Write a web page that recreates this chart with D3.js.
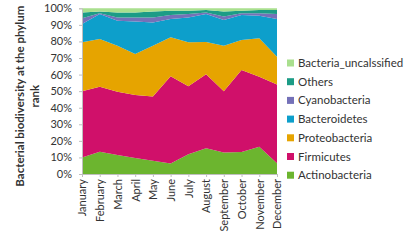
<!DOCTYPE html>
<html lang="en">
<head>
  <meta charset="UTF-8">
  <title>Bacterial biodiversity</title>
  <script src="https://d3js.org/d3.v7.min.js"></script>
  <style>
    body { margin: 0; background: #fff; }
    text { font-family: Lato, "Open Sans", sans-serif; fill: #333; }
    .axis path, .axis line { stroke: #bfbfbf; }
  </style>
</head>
<body>
<div id="chart"></div>
<script>
  // months along the x axis
  const months = ["January", "February", "March", "April", "May", "June",
    "July", "August", "September", "October", "November", "December"];

  // percentage of each phylum per month
  const actinobacteria = [10, 13.5, 11.5, 9.7, 8, 6.4, 11.9, 15.5, 13, 13.3, 16.5, 6.5];
  const firmicutes = [40, 39.2, 38.2, 38, 38.7, 52.6, 41.1, 44.7, 37, 49.5, 42.2, 47.5];
  const proteobacteria = [29.5, 28.8, 27.7, 24.7, 30.7, 23.5, 26.5, 19.5, 27.4, 18.1, 23.3, 16.8];
  const bacteroidetes = [11, 15, 15.1, 19.6, 14.1, 11, 15, 16.8, 15.6, 15.1, 13.5, 22.7];
  const cyanobacteria = [3.5, 0.5, 2, 2.5, 3, 2.5, 2, 1, 2, 1, 1.5, 3];
  const others = [3.5, 1, 3, 3, 3.5, 2.5, 2, 1.5, 3, 1.5, 2, 2.5];
  const unclassified = [2.5, 2, 2.5, 2.5, 2, 1.5, 1.5, 1, 2, 1.5, 1, 1];

  const seriesNames = ["Actinobacteria", "Firmicutes", "Proteobacteria", "Bacteroidetes",
    "Cyanobacteria", "Others", "Bacteria_uncalssified"];
  const seriesValues = [actinobacteria, firmicutes, proteobacteria, bacteroidetes,
    cyanobacteria, others, unclassified];
  const colors = ["#6cb52f", "#d0106a", "#e6a400", "#0d9fcb", "#7471b8", "#1c9c86", "#a9df8e"];
  const yTicks = [0, 10, 20, 30, 40, 50, 60, 70, 80, 90, 100];

  const width = 409, height = 242;
  const margin = { top: 8.3, right: 132, bottom: 68, left: 82 };

  const svg = d3.select("#chart").append("svg")
    .attr("width", width)
    .attr("height", height);

  // table for d3.stack
  const table = months.map((m, i) => {
    const row = { month: m };
    seriesNames.forEach((s, j) => { row[s] = seriesValues[j][i]; });
    return row;
  });

  const stacked = d3.stack().keys(seriesNames)(table);

  const x = d3.scalePoint()
    .domain(months)
    .range([margin.left, width - margin.right]);

  const y = d3.scaleLinear()
    .domain([0, 100])
    .range([height - margin.bottom, margin.top]);

  const area = d3.area()
    .x(d => x(d.data.month))
    .y0(d => y(d[0]))
    .y1(d => y(d[1]));

  svg.selectAll(".layer")
    .data(stacked)
    .enter().append("path")
    .attr("class", "layer")
    .attr("fill", (d, i) => colors[i])
    .attr("d", area);

  // y axis
  const yAxis = svg.append("g")
    .attr("class", "axis")
    .attr("transform", `translate(${margin.left},0)`)
    .call(d3.axisLeft(y).tickValues(yTicks).tickSize(3).tickPadding(7).tickFormat(d => d + "%"));
  yAxis.selectAll("text").style("font-size", "11px");

  // x axis
  const xAxis = svg.append("g")
    .attr("class", "axis")
    .attr("transform", `translate(0,${height - margin.bottom})`)
    .call(d3.axisBottom(x).tickSize(3).tickSizeOuter(0));
  xAxis.selectAll("text")
    .style("font-size", "11px")
    .attr("transform", "rotate(-90)")
    .attr("x", -5)
    .attr("y", 0)
    .attr("dy", "0.35em")
    .attr("text-anchor", "end");

  // y axis title
  const title = svg.append("text")
    .attr("transform", `translate(24,${(y(0) + y(100)) / 2 + 5}) rotate(-90)`)
    .attr("text-anchor", "middle")
    .style("font-size", "11.5px")
    .style("font-weight", "bold");
  title.append("tspan").attr("x", 0).attr("dy", 0).text("Bacterial biodiversity at the phylum");
  title.append("tspan").attr("x", 0).attr("dy", "1.3em").text("rank");

  // legend, top entry is the last series
  const legend = svg.append("g")
    .attr("transform", "translate(287,63)");
  const items = legend.selectAll("g")
    .data(seriesNames.slice().reverse())
    .enter().append("g")
    .attr("transform", (d, i) => `translate(0,${i * 18.7})`);
  items.append("rect")
    .attr("x", 0).attr("y", -3.5)
    .attr("width", 7).attr("height", 7)
    .attr("fill", (d, i) => colors[seriesNames.length - 1 - i]);
  items.append("text")
    .attr("x", 11)
    .attr("dy", "0.35em")
    .style("font-size", "11.5px")
    .text(d => d);
</script>
</body>
</html>
